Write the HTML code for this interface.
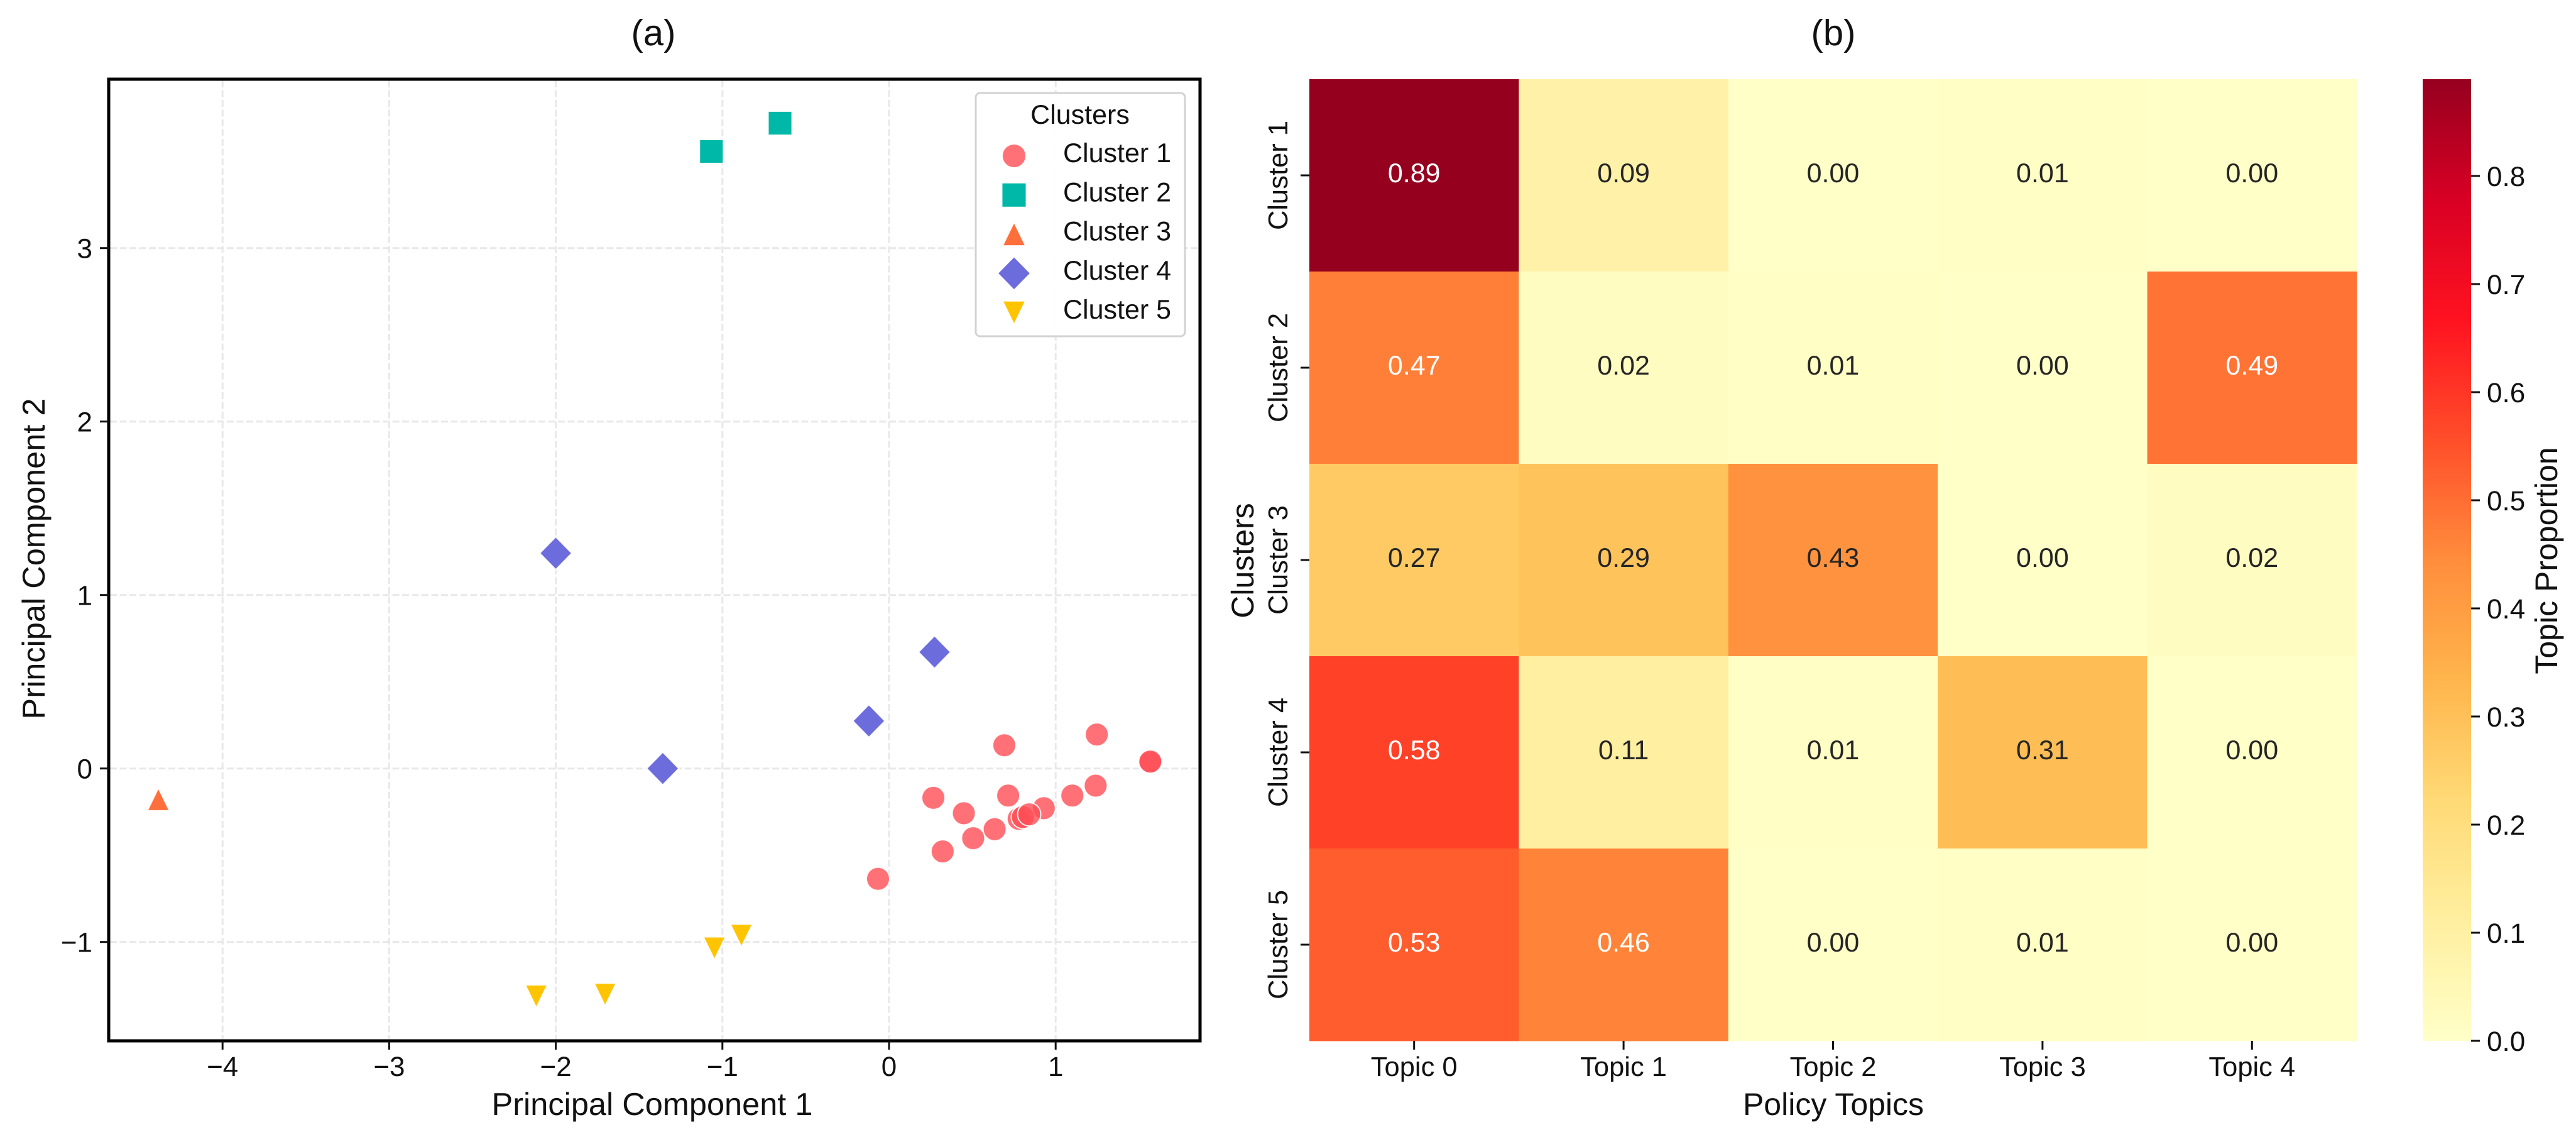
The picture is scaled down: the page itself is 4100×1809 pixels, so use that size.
<!DOCTYPE html>
<html lang="en">
<head>
<meta charset="utf-8">
<title>Cluster PCA scatter and topic heatmap</title>
<style>
html,body{margin:0;padding:0;background:#fff;}
svg{display:block;}
text{font-family:"Liberation Sans",Arial,sans-serif;fill:#111;text-rendering:geometricPrecision;}
</style>
</head>
<body>
<svg id="figure" xmlns="http://www.w3.org/2000/svg" width="4100" height="1809" viewBox="0 0 4100 1809">
  <rect x="0" y="0" width="4100" height="1809" fill="#fff"/>
  <defs><linearGradient id="cbar-gradient" x1="0" y1="1" x2="0" y2="0"></linearGradient></defs>
  <text x="1040" y="72" font-size="58" text-anchor="middle">(a)</text>
  <text x="2918" y="72" font-size="58" text-anchor="middle">(b)</text>
  <g id="scatter-grid"></g>
  <g id="scatter-points"></g>
  <g id="scatter-axes"></g>
  <g id="legend">
    <rect x="1553" y="148" width="333" height="387" rx="7" fill="#fff" fill-opacity="0.93" stroke="#d2d2d2" stroke-width="3"/>
    <text x="1719" y="197" font-size="43" text-anchor="middle">Clusters</text>
  </g>
  <text x="1038" y="1774" font-size="50.5" text-anchor="middle">Principal Component 1</text>
  <text transform="translate(71 889) rotate(-90)" font-size="50.5" text-anchor="middle">Principal Component 2</text>
  <g id="heatmap"></g>
  <g id="heatmap-axes"></g>
  <text x="2918" y="1774" font-size="50" text-anchor="middle">Policy Topics</text>
  <text transform="translate(1995 892) rotate(-90)" font-size="50" text-anchor="middle">Clusters</text>
  <g id="colorbar">
    <rect x="3856" y="126" width="77" height="1530" fill="url(#cbar-gradient)"/>
  </g>
  <text transform="translate(4070 892) rotate(-90)" font-size="50" text-anchor="middle">Topic Proportion</text>
</svg>
<script>
// ---- Scatter data (principal components) ----
const clusterNames = ['Cluster 1', 'Cluster 2', 'Cluster 3', 'Cluster 4', 'Cluster 5'];
const cluster1X = [0.692, 1.247, 1.568, 1.568, 0.266, 0.715, 0.449, 0.929, 1.10, 1.24, 0.634, 0.505, 0.322, -0.066, 0.778, 0.803, 0.841];
const cluster1Y = [0.134, 0.196, 0.036, 0.040, -0.169, -0.156, -0.258, -0.229, -0.156, -0.099, -0.35, -0.402, -0.478, -0.636, -0.29, -0.28, -0.264];
const cluster2X = [-1.066, -0.654];
const cluster2Y = [3.557, 3.72];
const cluster3X = [-4.385];
const cluster3Y = [-0.178];
const cluster4X = [-2.0, 0.273, -0.121, -1.358];
const cluster4Y = [1.241, 0.671, 0.274, 0.0];
const cluster5X = [-2.117, -1.704, -1.048, -0.886];
const cluster5Y = [-1.313, -1.303, -1.036, -0.963];
const xTicks = [-4, -3, -2, -1, 0, 1];
const yTicks = [-1, 0, 1, 2, 3];

// ---- Heatmap data ----
const topicLabels = ['Topic 0', 'Topic 1', 'Topic 2', 'Topic 3', 'Topic 4'];
const row1 = [0.89, 0.09, 0.00, 0.01, 0.00];
const row2 = [0.47, 0.02, 0.01, 0.00, 0.49];
const row3 = [0.27, 0.29, 0.43, 0.00, 0.02];
const row4 = [0.58, 0.11, 0.01, 0.31, 0.00];
const row5 = [0.53, 0.46, 0.00, 0.01, 0.00];
const colorbarTicks = [0.0, 0.1, 0.2, 0.3, 0.4, 0.5, 0.6, 0.7, 0.8];
const colorMax = 0.8895;

// ---- Layout and scales ----
const NS = 'http://www.w3.org/2000/svg';
const sx = v => 1415 + 265.2 * v;
const sy = v => 1222.7 - 276 * v;
const cellW = (3751 - 2084) / 5, cellH = (1656 - 126) / 5;
const hx = i => 2084 + cellW * i;
const hy = i => 126 + cellH * i;
const cy = v => 1656 - (v / colorMax) * 1530;
const rampColors = ['#ffffc8', '#ffefa0', '#ffda76', '#ffb54c', '#ff8d3c', '#ff4e2a', '#ff1220', '#d80024', '#96001f'];

function hex2rgb(h) { return [1, 3, 5].map(i => parseInt(h.substr(i, 2), 16)); }
function colorFor(v) {
  const t = Math.max(0, Math.min(1, v / colorMax)) * (rampColors.length - 1);
  const i = Math.min(rampColors.length - 2, Math.floor(t));
  const f = t - i;
  const a = hex2rgb(rampColors[i]), b = hex2rgb(rampColors[i + 1]);
  return 'rgb(' + a.map((c, k) => Math.round(c + (b[k] - c) * f)).join(',') + ')';
}
function make(tag, attrs, parent, text) {
  const el = document.createElementNS(NS, tag);
  for (const k in attrs) el.setAttribute(k, attrs[k]);
  if (text !== undefined) el.textContent = text;
  parent.appendChild(el);
  return el;
}
const $ = id => document.getElementById(id);

function markerShape(kind, x, y, style, parent) {
  if (kind === 'circle') return make('circle', Object.assign({cx: x, cy: y, r: 18.5}, style), parent);
  if (kind === 'square') return make('rect', Object.assign({x: x - 19, y: y - 19, width: 38, height: 38}, style), parent);
  let pts;
  if (kind === 'up') pts = [[x, y - 18], [x + 17.5, y + 18], [x - 17.5, y + 18]];
  if (kind === 'down') pts = [[x, y + 18], [x + 17.5, y - 18], [x - 17.5, y - 18]];
  if (kind === 'diamond') pts = [[x, y - 26], [x + 25.5, y], [x, y + 26], [x - 25.5, y]];
  return make('polygon', Object.assign({points: pts.map(p => p.join(',')).join(' ')}, style), parent);
}

// ---- Scatter grid ----
xTicks.forEach(v => {
  const el = make('line', {x1: sx(v), x2: sx(v), y1: 128, y2: 1654, stroke: '#e8e8e8', 'stroke-width': 3, 'stroke-dasharray': '11 4.5'}, $('scatter-grid'));
  
  
});
yTicks.forEach(v => {
  const el = make('line', {x1: 175, x2: 1907, y1: sy(v), y2: sy(v), stroke: '#e8e8e8', 'stroke-width': 3, 'stroke-dasharray': '11 4.5'}, $('scatter-grid'));
  
  
});

// ---- Scatter points ----
const seriesX = [cluster1X, cluster2X, cluster3X, cluster4X, cluster5X];
const seriesY = [cluster1Y, cluster2Y, cluster3Y, cluster4Y, cluster5Y];
const kinds = ['circle', 'square', 'up', 'diamond', 'down'];
const fills = ['#ff4e55', '#00b8a8', '#ff6f3c', '#6c6cdc', '#ffc400'];
const fillOpacity = [0.8, 1, 1, 1, 1];
seriesX.forEach((xs, s) => {
  xs.forEach((xv, i) => {
    const style = {fill: fills[s], 'fill-opacity': fillOpacity[s], stroke: '#fff', 'stroke-opacity': 0.9, 'stroke-width': 2};
    const el = markerShape(kinds[s], sx(xv), sy(seriesY[s][i]), style, $('scatter-points'));
    
    
  });
});

// ---- Scatter axes ----
const scatterFrame = make('rect', {x: 173, y: 126, width: 1737, height: 1530, fill: 'none', stroke: '#000', 'stroke-width': 5}, $('scatter-axes'));


xTicks.forEach(v => {
  const tick = make('line', {x1: sx(v), x2: sx(v), y1: 1656, y2: 1670, stroke: '#111', 'stroke-width': 3}, $('scatter-axes'));
  
  
  const lab = make('text', {x: sx(v), y: 1712, 'font-size': 44, 'text-anchor': 'middle'}, $('scatter-axes'), String(v).replace('-', '\u2212'));
  
  
});
yTicks.forEach(v => {
  const tick = make('line', {x1: 159, x2: 173, y1: sy(v), y2: sy(v), stroke: '#111', 'stroke-width': 3}, $('scatter-axes'));
  
  
  const lab = make('text', {x: 147, y: sy(v) + 16, 'font-size': 44, 'text-anchor': 'end'}, $('scatter-axes'), String(v).replace('-', '\u2212'));
  
  
});

// ---- Legend ----
clusterNames.forEach((name, s) => {
  const y = 248 + 62.3 * s;
  const swatch = markerShape(kinds[s], 1614, y, {fill: fills[s], 'fill-opacity': fillOpacity[s], stroke: '#fff', 'stroke-opacity': 0.9, 'stroke-width': 1}, $('legend'));
  
  
  const lab = make('text', {x: 1692, y: y + 10, 'font-size': 43}, $('legend'), name);
  
  
});

// ---- Heatmap ----
const rows = [row1, row2, row3, row4, row5];
rows.forEach((row, r) => {
  row.forEach((v, c) => {
    const cell = make('rect', {x: hx(c), y: hy(r), width: cellW + 0.5, height: cellH + 0.5, fill: colorFor(v)}, $('heatmap'));
    
    
  });
});
rows.forEach((row, r) => {
  row.forEach((v, c) => {
    const lab = make('text', {x: hx(c) + cellW / 2, y: hy(r) + cellH / 2 + 11, 'font-size': 43, 'text-anchor': 'middle'}, $('heatmap'), v.toFixed(2));
    lab.style.fill = v > 0.445 ? '#ffffff' : '#262626';
    
    
  });
});

// ---- Heatmap axes ----
topicLabels.forEach((name, c) => {
  const x = hx(c) + cellW / 2;
  const tick = make('line', {x1: x, x2: x, y1: 1656, y2: 1670, stroke: '#111', 'stroke-width': 3}, $('heatmap-axes'));
  
  
  const lab = make('text', {x: x, y: 1712, 'font-size': 43.5, 'text-anchor': 'middle'}, $('heatmap-axes'), name);
  
  
});
clusterNames.forEach((name, r) => {
  const y = hy(r) + cellH / 2;
  const tick = make('line', {x1: 2070, x2: 2084, y1: y, y2: y, stroke: '#111', 'stroke-width': 3}, $('heatmap-axes'));
  
  
  const lab = make('text', {transform: 'translate(2049 ' + y + ') rotate(-90)', 'font-size': 43.5, 'text-anchor': 'middle'}, $('heatmap-axes'), name);
  
  
});

// ---- Colorbar ----
rampColors.forEach((col, i) => {
  const stop = make('stop', {offset: i / (rampColors.length - 1), 'stop-color': col}, $('cbar-gradient'));
  
  
});
colorbarTicks.forEach(v => {
  const tick = make('line', {x1: 3933, x2: 3947, y1: cy(v), y2: cy(v), stroke: '#111', 'stroke-width': 3}, $('colorbar'));
  
  
  const lab = make('text', {x: 3958, y: cy(v) + 16, 'font-size': 44}, $('colorbar'), v.toFixed(1));
  
  
});
</script>
</body>
</html>
